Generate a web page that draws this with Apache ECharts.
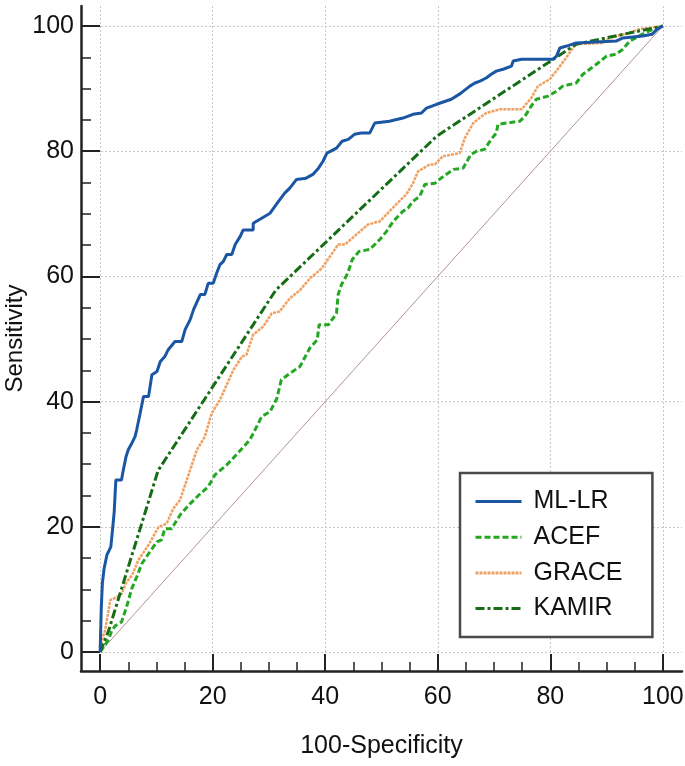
<!DOCTYPE html>
<html>
<head>
<meta charset="utf-8">
<script src="https://cdn.jsdelivr.net/npm/echarts@6/dist/echarts.min.js"></script>
<style>
html,body{margin:0;padding:0;background:#fff;}
#chart{width:685px;height:766px;}
</style>
</head>
<body>
<div id="chart"></div>
<script>
// ---- data ----
const seriesNames = ['ML-LR', 'ACEF', 'GRACE', 'KAMIR'];

const mlX = [0,0.2,0.2,0.4,0.4,0.7,1.2,1.9,2.2,2.5,2.7,2.8,3.8,4.1,4.6,5.0,5.6,6.2,6.5,7.1,7.7,8.6,9.2,10.1,10.7,11.5,12.1,13.3,14.5,15.1,16.0,16.6,17.8,18.6,19.2,20.1,20.7,21.3,21.9,22.5,23.4,24.0,24.9,25.4,27.2,27.2,28.7,30.2,31.7,32.8,33.7,34.9,36.6,37.8,38.8,39.6,40.3,42.0,43.0,44.1,45.2,46.4,47.9,48.8,51.4,53.8,55.6,57.1,58.0,59.8,62.4,64.0,65.7,66.6,67.5,68.6,69.5,70.4,71.6,73.1,73.4,74.9,80.5,81.1,81.7,82.9,84.6,91.7,92.9,96.4,98.1,99.0,100];
const mlY = [0,0,7,7,11,13.3,15.5,16.8,19.5,22.4,25.9,27.5,27.5,29,31.2,32.3,33.3,34.4,35.5,38.1,40.8,40.8,44.3,44.8,46.4,47.2,48.3,49.6,49.6,51.5,53.1,54.7,57.1,57.1,58.9,58.9,60.5,61.9,62.4,63.5,63.5,65.1,66.4,67.4,67.4,68.5,69.3,70.1,72,73.3,74.1,75.5,75.7,76.3,77.3,78.4,79.7,80.5,81.6,81.9,82.7,82.9,82.9,84.5,84.8,85.3,85.9,86.1,86.9,87.5,88.3,89.2,90.4,90.9,91.2,91.7,92.3,92.8,93.1,93.6,94.4,94.7,94.7,95.2,96.5,96.8,97.3,97.6,98.1,98.4,98.7,99.5,100];

const acefX = [0,1.5,2.1,2.7,3.8,4.7,5.6,6.5,7.4,8.6,10.1,10.9,11.5,12.7,14.2,16.0,17.8,19.2,20.4,22.5,24.3,26.6,27.2,28.7,30.2,31.4,32.2,33.7,35.5,37.3,38.6,38.9,40.6,42.0,42.3,42.9,44.0,44.8,46.0,47.9,49.7,50.9,52.1,53.8,54.7,55.6,56.8,57.7,59.5,61.0,62.8,64.5,65.9,66.9,68.3,69.5,70.4,70.7,72.2,74.6,75.5,76.6,77.5,79.6,81.1,82.2,84.6,85.8,87.0,88.2,90.0,91.7,92.9,94.1,96.4,98.2,100];
const acefY = [0,2.0,3.5,4.2,4.8,7.2,10.1,12,14.1,15.7,17.6,17.9,19.7,19.7,21.9,23.7,25.3,26.4,28.3,29.9,31.6,33.9,34.9,37.6,38.4,40.5,43.5,44.5,45.6,48.6,49.9,52.3,52.3,54.1,57.1,58.7,60.5,62.7,64,64.3,65.9,67.2,68.8,70.4,70.9,72,72.8,74.7,74.9,76,77.1,77.3,79.5,80,80.3,81.9,82.9,84.3,84.5,84.8,85.6,87.2,88.3,88.8,89.6,90.4,90.9,92.3,93.1,93.9,95.2,95.5,96.3,97.6,98.7,99.5,100];

const graceX = [0,0.3,0.9,1.8,3.0,3.8,4.7,5.7,6.8,8.6,10.4,11.8,13.0,14.2,16.0,17.2,18.6,19.8,21.3,23.7,25.2,26.0,27.2,29.0,30.5,31.9,33.7,35.5,37.3,39.4,42.3,43.5,47.6,49.7,52.6,54.4,55.6,56.5,58.6,59.5,60.9,63.9,64.8,66.3,67.4,68.6,71.0,74.9,76.6,77.8,79.9,81.3,82.8,84.0,84.6,89.3,90.5,94.0,95.8,100];
const graceY = [0,1.9,3.5,8.3,8.8,9.3,11.2,12.3,14.7,17.1,20,20.5,22.9,24.3,29.1,32.3,34.4,38.1,40.3,45.1,47.2,47.5,50.7,52,54.1,54.4,56.5,57.8,59.7,61.3,65.1,65.1,68.3,68.8,71.5,73.1,74.9,76.8,77.9,77.9,79.2,79.7,82.1,84.5,85.3,86.1,86.7,86.7,88.5,90.4,91.5,93.1,94.9,96.5,97.1,97.3,98.1,98.9,99.5,100];

const kamirX = [0,1.5,10.3,31.2,59.8,84.6,100];
const kamirY = [0,3.4,29,57.8,82.4,97.1,100];

const refX = [0,100];
const refY = [0,100];

// tick values
const majorTicks = [0,20,40,60,80,100];
const minorTicks = [5,10,15,25,30,35,45,50,55,65,70,75,85,90,95];

function zip(xs, ys){ return xs.map((x,i)=>[x, ys[i]]); }

const FONT = 'Liberation Sans';
const axisColor = '#222';
const gridBox = {left: 81, right: 3, top: 6, bottom: 95, containLabel: false, outerBoundsMode: 'none'};
const xRange = {min: -3.4, max: 103.4};
const yRange = {min: -3.03, max: 103.2};

const chart = echarts.init(document.getElementById('chart'), null, {renderer:'canvas'});
chart.setOption({
  animation: false,
  grid: [Object.assign({}, gridBox), Object.assign({}, gridBox)],
  xAxis: [{
    gridIndex: 0, type: 'value', min: xRange.min, max: xRange.max, position: 'bottom',
    name: '100-Specificity', nameLocation: 'middle', nameGap: 63, nameMoveOverlap: false,
    nameTextStyle: {fontSize: 25, color: '#111', fontFamily: FONT},
    axisLine: {show: true, onZero: false, lineStyle: {color: axisColor, width: 2.5}},
    axisTick: {show: true, inside: true, length: 17, customValues: majorTicks, lineStyle: {color: axisColor, width: 2}},
    axisLabel: {show: true, customValues: majorTicks, fontSize: 25, color: '#111', margin: 14, fontFamily: FONT},
    splitLine: {show: true, lineStyle: {color: '#c8c8c8', width: 1, type: [2,2]}}
  },{
    gridIndex: 1, type: 'value', min: xRange.min, max: xRange.max, position: 'bottom',
    axisLine: {show: false, onZero: false},
    axisTick: {show: true, inside: true, length: 9, customValues: minorTicks, lineStyle: {color: axisColor, width: 1.5}},
    axisLabel: {show: false},
    splitLine: {show: false}
  }],
  yAxis: [{
    gridIndex: 0, type: 'value', min: yRange.min, max: yRange.max, position: 'left',
    name: 'Sensitivity', nameLocation: 'middle', nameGap: 54, nameMoveOverlap: false,
    nameTextStyle: {fontSize: 24, color: '#111', fontFamily: FONT},
    axisLine: {show: true, onZero: false, lineStyle: {color: axisColor, width: 2.5}},
    axisTick: {show: true, inside: true, length: 19, customValues: majorTicks, lineStyle: {color: axisColor, width: 2}},
    axisLabel: {show: true, customValues: majorTicks, fontSize: 25, color: '#111', margin: 7, fontFamily: FONT},
    splitLine: {show: true, lineStyle: {color: '#c8c8c8', width: 1, type: [2,2]}}
  },{
    gridIndex: 1, type: 'value', min: yRange.min, max: yRange.max, position: 'left',
    axisLine: {show: false, onZero: false},
    axisTick: {show: true, inside: true, length: 10, customValues: minorTicks, lineStyle: {color: axisColor, width: 1.5}},
    axisLabel: {show: false},
    splitLine: {show: false}
  }],
  legend: {
    data: seriesNames,
    orient: 'vertical', left: 460, top: 473,
    padding: [16, 30, 16, 14], itemGap: 10.7, itemWidth: 46, itemHeight: 26,
    backgroundColor: '#fff', borderColor: '#4a4a4a', borderWidth: 2.5,
    itemStyle: {opacity: 0, borderWidth: 0},
    lineStyle: {width: 3},
    textStyle: {fontSize: 25, color: '#111', fontFamily: FONT, padding: [0,0,0,7]}
  },
  series: [
    {name: 'ref', type: 'line', data: zip(refX, refY), symbol: 'none', silent: true,
     lineStyle: {color: '#b39292', width: 1}, z: 1},
    {name: 'ACEF', type: 'line', data: zip(acefX, acefY), symbol: 'none',
     itemStyle: {color: '#24a824'}, lineStyle: {color: '#24a824', width: 3, type: [6,3]}, z: 2},
    {name: 'GRACE', type: 'line', data: zip(graceX, graceY), symbol: 'none',
     itemStyle: {color: '#f0a060'}, lineStyle: {color: '#f0a060', width: 2.5, type: [3,1]}, z: 3},
    {name: 'KAMIR', type: 'line', data: zip(kamirX, kamirY), symbol: 'none',
     itemStyle: {color: '#176d17'}, lineStyle: {color: '#176d17', width: 3, type: [9,3,3,3]}, z: 4},
    {name: 'ML-LR', type: 'line', data: zip(mlX, mlY), symbol: 'none',
     itemStyle: {color: '#1a56a4'}, lineStyle: {color: '#1a56a4', width: 3}, z: 5}
  ]
});
// force a complete, synchronous paint before the page is photographed
chart.getZr().storage.getDisplayList(true);
chart.getZr().refreshImmediately();
</script>
</body>
</html>
